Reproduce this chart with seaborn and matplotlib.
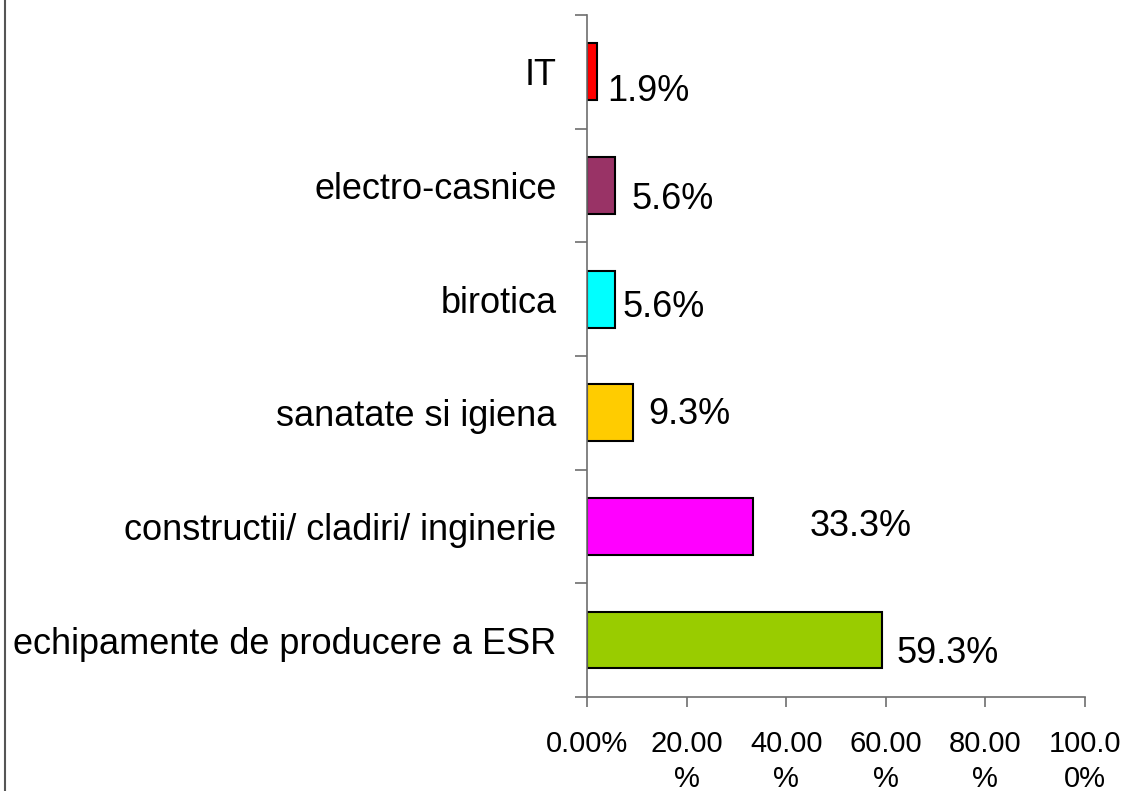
"""Horizontal bar chart of equipment categories (percent share)."""

import matplotlib

matplotlib.use("Agg")

import matplotlib.pyplot as plt
import numpy as np
import seaborn as sns
from matplotlib.lines import Line2D

categories = [
    "IT",
    "electro-casnice",
    "birotica",
    "sanatate si igiena",
    "constructii/ cladiri/ inginerie",
    "echipamente de producere a ESR",
]
values = [1.9, 5.6, 5.6, 9.3, 33.3, 59.3]
value_labels = ["1.9%", "5.6%", "5.6%", "9.3%", "33.3%", "59.3%"]
bar_colors = ["#FF0000", "#993366", "#00FFFF", "#FFCC00", "#FF00FF", "#99CC00"]
x_ticks = [0, 20, 40, 60, 80, 100]
x_tick_labels = ["0.00%", "20.00\n%", "40.00\n%", "60.00\n%", "80.00\n%", "100.0\n0%"]

# Excel-style label placement, in pixels (dx right, dy down)
label_offsets = [(11, 20), (17, 14), (8, 8), (15, 2), (57, 0), (14, 13)]

sns.set_theme(style="white")
plt.rcParams["font.family"] = ["Liberation Sans", "DejaVu Sans"]

fig = plt.figure(figsize=(11.29, 7.91), dpi=100)
ax = fig.add_axes([0.52, 0.119, 0.441, 0.862])

sns.barplot(
    x=values,
    y=categories,
    hue=categories,
    palette=bar_colors,
    saturation=1,
    orient="h",
    width=0.5,
    edgecolor="black",
    linewidth=1.5,
    legend=False,
    ax=ax,
)

for i, (val, text, (dx, dy)) in enumerate(zip(values, value_labels, label_offsets)):
    ax.annotate(
        text,
        xy=(val, i),
        xytext=(dx, -dy),
        textcoords="offset pixels",
        ha="left",
        va="center",
        fontsize=26,
        color="black",
    )

ax.set_xlim(0, 100)
ax.set_ylim(len(categories) - 0.5, -0.5)
ax.set_xticks(x_ticks)
ax.set_xticklabels(x_tick_labels, fontsize=21, linespacing=1.3)
ax.set_yticks(range(len(categories)))
ax.set_yticklabels(categories, fontsize=26)
ax.set_yticks(np.arange(-0.5, len(categories), 1.0), minor=True)
ax.set_xlabel("")
ax.set_ylabel("")

spine_color = "#6e6e6e"
for side in ["top", "right"]:
    ax.spines[side].set_visible(False)
for side in ["left", "bottom"]:
    ax.spines[side].set_color(spine_color)
    ax.spines[side].set_linewidth(1.2)

ax.tick_params(axis="y", which="major", length=0, pad=22, colors="black")
ax.tick_params(axis="y", which="minor", left=True, length=9, width=1.2, color=spine_color)
ax.tick_params(axis="x", which="major", bottom=True, direction="out", length=7,
               width=1.2, color=spine_color, pad=17, labelcolor="black")
ax.grid(False)

fig.add_artist(Line2D([5 / 1129, 5 / 1129], [0, 1], color="#555555", linewidth=1.5))

fig.savefig("out.png", dpi=100)
